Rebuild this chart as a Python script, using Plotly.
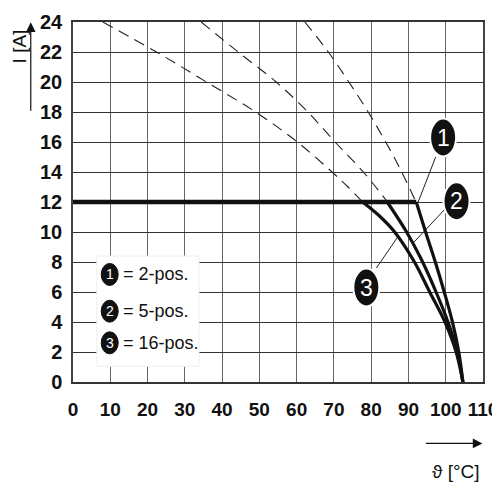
import plotly.graph_objects as go

# Derating data (temperature in degC, current in A)
temp_ticks = list(range(0, 111, 10))
curr_ticks = list(range(0, 25, 2))

# solid limit line at 12 A
limit_x = [0, 92.1]
limit_y = [12, 12]

# solid curves after the limit (1 = 2-pos., 2 = 5-pos., 3 = 16-pos.)
c1_x = [92.1, 94.6, 97.2, 99.6, 101.8, 103.5, 104.6]
c1_y = [12, 10, 8, 6, 4, 2, 0]
c2_x = [84.3, 89.5, 93.8, 97.4, 100.6, 103.1, 104.6]
c2_y = [12, 10, 8, 6, 4, 2, 0]
c3_x = [77.7, 82.3, 86.3, 91.6, 95.7, 99.8, 102.8, 104.6]
c3_y = [12, 11.05, 10, 8, 6, 4, 2, 0]

# dashed curves above the limit
d1_x = [62.2, 68.5, 74.0, 79.2, 83.9, 88.2, 92.0]
d1_y = [24, 22, 20, 18, 16, 14, 12]
d2_x = [34.4, 44.3, 54.5, 63.0, 70.3, 77.9, 84.4]
d2_y = [24, 22, 20, 18, 16, 14, 12]
d3_x = [8.0, 22.4, 35.8, 49.0, 60.2, 69.5, 73.8, 77.7]
d3_y = [24, 22, 20, 18, 16, 14, 13, 12]

# numbered callouts
labels = ["1", "2", "3"]
legend_text = ["= 2-pos.", "= 5-pos.", "= 16-pos."]
badge_x = [99.3, 102.9, 78.7]
badge_y = [16.3, 12.05, 6.3]
leader_from = [(97.3, 15.0), (99.7, 11.5), (81.4, 7.6)]
leader_to = [(92.3, 11.8), (91.4, 9.3), (87.2, 9.7)]

legend_x = 9.85
legend_y = [7.17, 4.72, 2.61]

FONT = "Liberation Sans, Arial, sans-serif"

fig = go.Figure()

for xs, ys in [(d1_x, d1_y), (d2_x, d2_y), (d3_x, d3_y)]:
    fig.add_trace(go.Scatter(x=xs, y=ys, mode="lines",
                             line=dict(color="#222", width=1.1, dash="11px,7px", shape="spline"),
                             showlegend=False, hoverinfo="skip"))

fig.add_trace(go.Scatter(x=limit_x, y=limit_y, mode="lines",
                         line=dict(color="#111", width=4.5),
                         showlegend=False, hoverinfo="skip"))

for xs, ys in [(c1_x, c1_y), (c2_x, c2_y), (c3_x, c3_y)]:
    fig.add_trace(go.Scatter(x=xs, y=ys, mode="lines",
                             line=dict(color="#111", width=3.2, shape="spline"),
                             showlegend=False, hoverinfo="skip"))

shapes = []
annotations = []

# leader lines
for (x0, y0), (x1, y1) in zip(leader_from, leader_to):
    shapes.append(dict(type="line", xref="x", yref="y", x0=x0, y0=y0, x1=x1, y1=y1,
                       line=dict(color="#222", width=1), layer="above"))

# big badges on the curves
for lab, bx, by in zip(labels, badge_x, badge_y):
    shapes.append(dict(type="circle", xref="x", yref="y", xsizemode="pixel", ysizemode="pixel",
                       xanchor=bx, yanchor=by, x0=-13, x1=13, y0=-19, y1=19,
                       fillcolor="#111", line=dict(color="white", width=2), layer="above"))
    annotations.append(dict(x=bx, y=by, xref="x", yref="y", text=lab, showarrow=False,
                            font=dict(family=FONT, size=23, color="white")))

# legend box
shapes.append(dict(type="rect", xref="x", yref="y", x0=6.4, x1=33.8, y0=1.05, y1=8.4,
                   fillcolor="white", line=dict(color="#eeeeee", width=1), layer="above"))
for lab, txt, ly in zip(labels, legend_text, legend_y):
    shapes.append(dict(type="circle", xref="x", yref="y", xsizemode="pixel", ysizemode="pixel",
                       xanchor=legend_x, yanchor=ly, x0=-8.5, x1=8.5, y0=-11, y1=11,
                       fillcolor="#111", line=dict(color="#111", width=1), layer="above"))
    annotations.append(dict(x=legend_x, y=ly, xref="x", yref="y", text=lab, showarrow=False,
                            font=dict(family=FONT, size=14, color="white")))
    annotations.append(dict(x=12.9, y=ly, xref="x", yref="y", text=txt, showarrow=False,
                            xanchor="left", font=dict(family=FONT, size=18, color="#111")))

# axis titles with arrows
annotations.append(dict(x=-0.103, y=0.999, xref="paper", yref="paper", ax=0, ay=90,
                        text="", showarrow=True, arrowhead=2, arrowsize=1.6, arrowwidth=1.2,
                        arrowcolor="#111"))
annotations.append(dict(x=-0.131, y=0.933, xref="paper", yref="paper", text="I [A]",
                        textangle=-90, showarrow=False, xanchor="center", yanchor="middle",
                        font=dict(family=FONT, size=19, color="#111")))
annotations.append(dict(x=0.9985, y=-0.1705, xref="paper", yref="paper", ax=-58, ay=0,
                        text="", showarrow=True, arrowhead=2, arrowsize=1.6, arrowwidth=1.2,
                        arrowcolor="#111"))
annotations.append(dict(x=0.935, y=-0.248, xref="paper", yref="paper", text="ϑ [°C]",
                        showarrow=False, xanchor="center", yanchor="middle",
                        font=dict(family=FONT, size=19, color="#111")))

# the page body adds an 8px offset, so the margins are shifted by 8px
fig.update_layout(
    width=500, height=500,
    margin=dict(l=65, r=24.5, t=14, b=125.5),
    plot_bgcolor="white", paper_bgcolor="white",
    shapes=shapes, annotations=annotations,
    showlegend=False,
)

fig.update_xaxes(range=[0, 110], tickvals=temp_ticks, ticktext=[str(v) for v in temp_ticks],
                 showgrid=True, gridcolor="#666", gridwidth=1.3,
                 showline=True, mirror=True, linecolor="#333", linewidth=1.5,
                 zeroline=False, ticks="", ticklabelstandoff=9, automargin=False,
                 tickfont=dict(family=FONT, size=19, color="#111", weight="bold"))
fig.update_yaxes(range=[0, 24], tickvals=curr_ticks, ticktext=[str(v) for v in curr_ticks],
                 showgrid=True, gridcolor="#333", gridwidth=1.3,
                 showline=True, mirror=True, linecolor="#444", linewidth=1.5,
                 zeroline=False, ticks="", ticklabelstandoff=5, automargin=False,
                 tickfont=dict(family=FONT, size=20, color="#111", weight="bold"))

fig.write_html("out.html")
